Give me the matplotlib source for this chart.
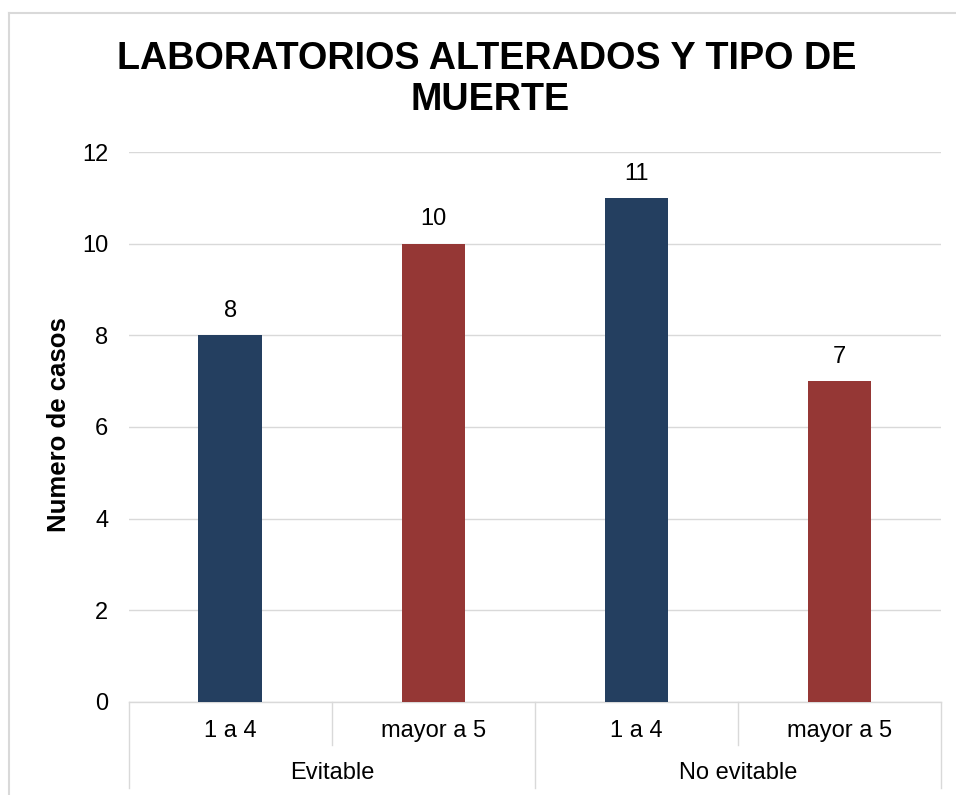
import matplotlib
matplotlib.use("Agg")
import matplotlib.pyplot as plt
import matplotlib.transforms as mtransforms
from matplotlib.lines import Line2D

plt.rcParams["font.family"] = ["Liberation Sans", "DejaVu Sans"]

sub_labels = ["1 a 4", "mayor a 5", "1 a 4", "mayor a 5"]
group_labels = ["Evitable", "No evitable"]
casos = [8, 10, 11, 7]
colores = ["#243f60", "#953735", "#243f60", "#953735"]

fig = plt.figure(figsize=(9.56, 7.95), dpi=100)
ax = fig.add_axes([0.1349, 0.1170, 0.8494, 0.6918])

x = list(range(len(casos)))
bars = ax.bar(x, casos, width=0.315, color=colores, zorder=3)
for b, v in zip(bars, casos):
    ax.annotate(str(v), (b.get_x() + b.get_width() / 2, v),
                xytext=(0, 17.5), textcoords="offset points",
                ha="center", va="center", fontsize=17, color="black")

ax.set_xlim(-0.5, 3.5)
ax.set_ylim(0, 12)
ax.set_yticks(range(0, 13, 2))
ax.tick_params(axis="y", length=0, pad=15, labelsize=17)
ax.set_xticks([])
ax.grid(axis="y", color="#d9d9d9", linewidth=1.0, zorder=0)
for s in ["top", "right", "left"]:
    ax.spines[s].set_visible(False)
ax.spines["bottom"].set_color("#d9d9d9")
ax.spines["bottom"].set_linewidth(1.0)

# two-level category axis
trans = mtransforms.blended_transform_factory(ax.transData, fig.transFigure)
y_axis = 0.1170
for xs in [-0.5, 0.5, 1.5, 2.5, 3.5]:
    y_end = 0.0088 if xs in (-0.5, 1.5, 3.5) else 0.0629
    fig.add_artist(Line2D([xs, xs], [y_axis, y_end], transform=trans,
                          color="#d9d9d9", linewidth=1.0))
for xi, lab in zip(x, sub_labels):
    fig.text(xi, 0.0799, lab, transform=trans, ha="center", va="center",
             fontsize=17)
for gi, lab in enumerate(group_labels):
    fig.text(gi * 2 + 0.5, 0.0277, lab, transform=trans, ha="center",
             va="center", fontsize=17)

fig.text(59 / 956, 1 - 425 / 795, "Numero de casos", rotation=90,
         ha="center", va="center", fontsize=18.5, fontweight="bold")

fig.text(0.509, 1 - 69 / 795, "LABORATORIOS ALTERADOS Y TIPO DE",
         ha="center", va="baseline", fontsize=27.2, fontweight="bold")
fig.text(0.513, 1 - 110 / 795, "MUERTE",
         ha="center", va="baseline", fontsize=27.2, fontweight="bold")

# chart area border
fig.add_artist(Line2D([9 / 956, 9 / 956], [0, 1 - 13 / 795],
                      transform=fig.transFigure, color="#d9d9d9", linewidth=1.5))
fig.add_artist(Line2D([9 / 956, 1], [1 - 13 / 795, 1 - 13 / 795],
                      transform=fig.transFigure, color="#d9d9d9", linewidth=1.5))

fig.savefig("out.png", dpi=100)
